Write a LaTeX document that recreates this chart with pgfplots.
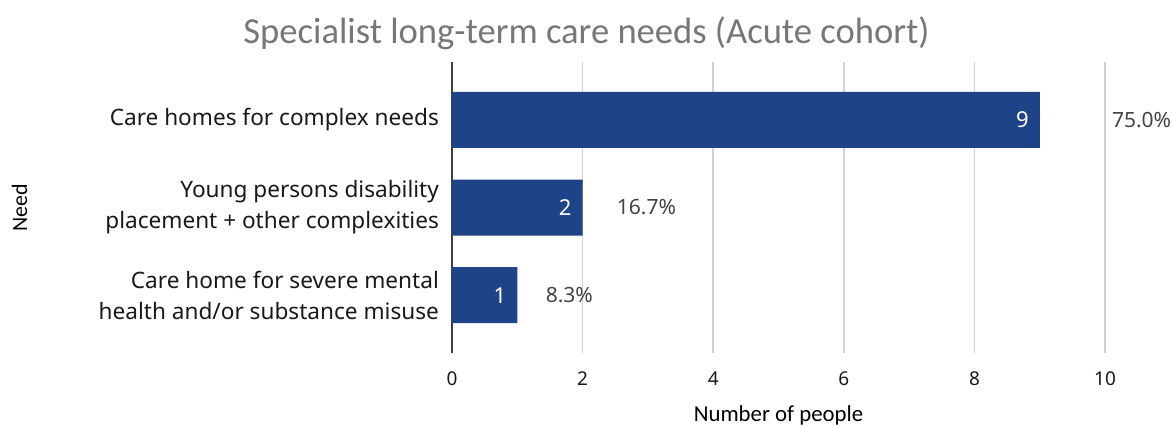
\documentclass[border=0pt]{standalone}
\usepackage{fontspec}
\setmainfont{Noto Sans}
\newfontfamily\calib{Carlito}
\usepackage{pgfplots}
\pgfplotsset{compat=1.18}
\definecolor{bar}{HTML}{1F4387}
\definecolor{titlegray}{HTML}{777777}
\definecolor{gridc}{HTML}{D2D2D2}
\definecolor{labc}{HTML}{444444}

\begin{document}
\begin{tikzpicture}
\begin{axis}[xbar, scale only axis, width=326.5pt, height=145.5pt,
  xmin=0, xmax=10, ymin=-0.66, ymax=2.66, y dir=reverse,
  bar width=28pt,
  ytick={0,1,2},
  yticklabels={Care homes for complex needs,{Young persons disability\\placement + other complexities},{Care home for severe mental\\health and/or substance misuse}},
  yticklabel style={align=right, font=\fontsize{11.3}{15.5}\selectfont, text=black!90, xshift=-3pt},
  xtick={0,2,4,6,8,10},
  xticklabel style={font=\fontsize{9.5}{11}\selectfont, text=black!90, yshift=-6pt},
  /pgf/number format/assume math mode=true,
  major tick length=0pt,
  xmajorgrids, grid style={gridc, line width=0.75pt},
  axis lines*=left,
  x axis line style={draw=none},
  y axis line style={draw=black!75, line width=0.7pt},
  nodes near coords,
  nodes near coords style={anchor=east, text=white, font=\fontsize{11}{12}\selectfont, xshift=-2pt},
  clip=false]
\addplot[fill=bar, draw=none] coordinates {(9,0) (2,1) (1,2)};
\node[anchor=west, text=labc, font=\fontsize{10.5}{12}\selectfont, inner sep=0pt] at (axis cs:10.1,0) {75.0\%};
\node[anchor=west, text=labc, font=\fontsize{10.5}{12}\selectfont, inner sep=0pt] at (axis cs:2.52,1) {16.7\%};
\node[anchor=west, text=labc, font=\fontsize{10.5}{12}\selectfont, inner sep=0pt] at (axis cs:1.43,2) {8.3\%};
\node[text=titlegray, font=\calib\fontsize{18.3}{20}\selectfont] at (rel axis cs:0.206,1.10) {Specialist long-term care needs (Acute cohort)};
\node[font=\calib\fontsize{11.4}{12}\selectfont] at (rel axis cs:0.5,-0.213) {Number of people};
\node[rotate=90, font=\calib\fontsize{11}{12}\selectfont] at (rel axis cs:-0.662,0.5) {Need};
\coordinate (tl) at (rel axis cs:-0.692,1.213);
\coordinate (br) at (rel axis cs:1.104,-0.247);
\end{axis}
\pgfresetboundingbox
\path (tl) rectangle (br);
\end{tikzpicture}
\end{document}
